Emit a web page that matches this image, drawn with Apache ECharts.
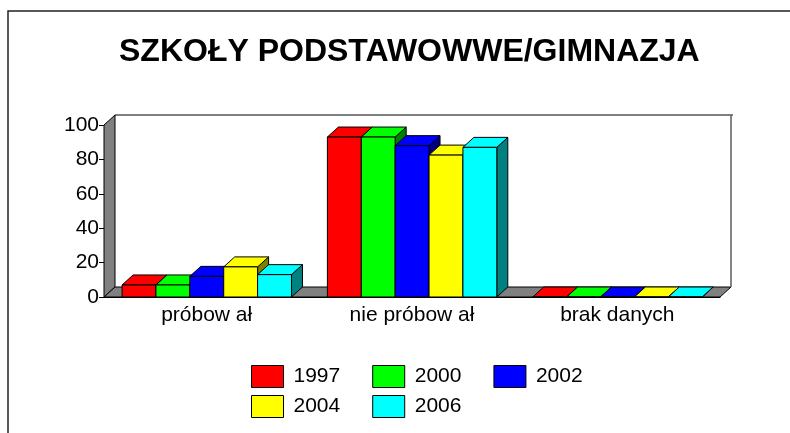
<!DOCTYPE html>
<html>
<head>
<meta charset="utf-8">
<script src="https://cdn.jsdelivr.net/npm/echarts@6/dist/echarts.min.js"></script>
<style>
  html, body { margin: 0; padding: 0; background: #fff; }
  #chart { width: 790px; height: 433px; }
</style>
</head>
<body>
<div id="chart"></div>
<script>
// categories and values
var categories = ['próbow ał', 'nie próbow ał', 'brak danych'];
var years = ['1997', '2000', '2002', '2004', '2006'];
var v1997 = [7, 93, 0];
var v2000 = [7, 93, 0];
var v2002 = [12, 88, 0];
var v2004 = [17.5, 82.5, 0];
var v2006 = [13, 87, 0];
var yTicks = [0, 20, 40, 60, 80, 100];

var seriesValues = [v1997, v2000, v2002, v2004, v2006];
// bright front/top colours, dark side colours (excel style)
var frontColors = ['#ff0000', '#00ff00', '#0000ff', '#ffff00', '#00ffff'];
var sideColors = ['#800000', '#008000', '#000080', '#808000', '#008080'];

var DX = 11, DY = 10;          // fake depth
var BAR_OFF = 0.088, BAR_W = 0.165;

var chart = echarts.init(document.getElementById('chart'));

// floor, left wall and back wall outline
function renderFrame(params, api) {
  var cs = params.coordSys;
  var x0 = cs.x, y0 = cs.y + cs.height, x1 = cs.x + cs.width, yt = cs.y;
  return {
    type: 'group',
    children: [
      {
        type: 'polygon',
        shape: { points: [[x0, y0], [x0, yt], [x0 + DX, yt - DY], [x0 + DX, y0 - DY]] },
        style: { fill: '#808080', stroke: '#000', lineWidth: 1 }
      },
      {
        type: 'polygon',
        shape: { points: [[x0, y0], [x1, y0], [x1 + DX, y0 - DY], [x0 + DX, y0 - DY]] },
        style: { fill: '#808080', stroke: '#000', lineWidth: 1 }
      },
      {
        type: 'line',
        shape: { x1: x0 + DX, y1: yt - DY, x2: x1 + DX + 2, y2: yt - DY },
        style: { stroke: '#000', lineWidth: 1.2 }
      },
      {
        type: 'line',
        shape: { x1: x1 + DX, y1: yt - DY, x2: x1 + DX, y2: y0 - DY },
        style: { stroke: '#666', lineWidth: 1.6 }
      }
    ]
  };
}

function makeBarRender(idx) {
  return function (params, api) {
    var cat = api.value(0);
    var base = api.coord([cat, 0]);
    var top = api.coord([cat, api.value(1)]);
    var band = api.size([1, 0])[0];
    var left = base[0] - band / 2 + band * (BAR_OFF + idx * BAR_W);
    var w = band * BAR_W;
    var by = base[1], ty = top[1];
    var r = left + w;
    return {
      type: 'group',
      children: [
        {
          type: 'polygon',
          shape: { points: [[r, by], [r, ty], [r + DX, ty - DY], [r + DX, by - DY]] },
          style: { fill: sideColors[idx], stroke: '#000', lineWidth: 1 }
        },
        {
          type: 'polygon',
          shape: { points: [[left, ty], [r, ty], [r + DX, ty - DY], [left + DX, ty - DY]] },
          style: { fill: frontColors[idx], stroke: '#000', lineWidth: 1 }
        },
        {
          type: 'rect',
          shape: { x: left, y: ty, width: w, height: by - ty },
          style: { fill: frontColors[idx], stroke: '#000', lineWidth: 1 }
        }
      ]
    };
  };
}

var series = [{
  type: 'custom',
  name: 'frame',
  renderItem: renderFrame,
  data: [[0, 0]],
  silent: true,
  z: 1
}];
years.forEach(function (y, i) {
  series.push({
    type: 'custom',
    name: y,
    renderItem: makeBarRender(i),
    itemStyle: { color: frontColors[i] },
    encode: { x: 0, y: 1 },
    data: seriesValues[i].map(function (v, c) { return [c, v]; }),
    z: 2
  });
});

var legendBase = {
  orient: 'horizontal',
  left: 246,
  itemWidth: 32,
  itemHeight: 22,
  itemGap: 32,
  icon: 'rect',
  selectedMode: false,
  itemStyle: { borderColor: '#000', borderWidth: 1 },
  textStyle: { fontFamily: 'Arial, Liberation Sans', fontSize: 21, color: '#000', padding: [0, 0, 0, 5] }
};

chart.setOption({
  animation: false,
  backgroundColor: '#fff',
  color: frontColors,
  title: {
    text: 'SZKOŁY PODSTAWOWWE/GIMNAZJA',
    left: 114,
    top: 31,
    textStyle: { fontFamily: 'Arial, Liberation Sans', fontSize: 32, fontWeight: 'bold', color: '#000' }
  },
  legend: [
    Object.assign({}, legendBase, { top: 360, data: years.slice(0, 3) }),
    Object.assign({}, legendBase, { top: 390, data: years.slice(3) })
  ],
  grid: { left: 104, right: 70, top: 125, bottom: 136 },
  xAxis: {
    type: 'category',
    data: categories,
    axisLine: { lineStyle: { color: '#000' } },
    axisTick: { length: 6, lineStyle: { color: '#000' } },
    axisLabel: { fontFamily: 'Arial, Liberation Sans', fontSize: 21, color: '#000', margin: 8 }
  },
  yAxis: {
    type: 'value',
    min: yTicks[0],
    max: yTicks[yTicks.length - 1],
    interval: 20,
    axisLine: { show: true, lineStyle: { color: '#000' } },
    axisTick: { show: true, length: 5, lineStyle: { color: '#000' } },
    axisLabel: { fontFamily: 'Arial, Liberation Sans', fontSize: 21, color: '#000', margin: 5 },
    splitLine: { show: false }
  },
  graphic: [{
    type: 'rect',
    shape: { x: 8, y: 11, width: 900, height: 600 },
    style: { fill: 'none', stroke: '#222', lineWidth: 1.5 },
    silent: true
  }],
  series: series
});
</script>
</body>
</html>
